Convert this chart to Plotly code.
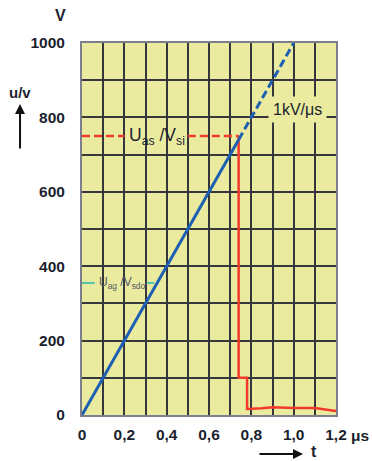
import plotly.graph_objects as go

# ---- data ----
ramp_solid_t = [0.0, 0.74]
ramp_solid_u = [0.0, 740.0]
ramp_dash_t = [0.74, 1.0]
ramp_dash_u = [740.0, 1000.0]

uas_dash_left_t = [0.0, 0.20]
uas_dash_right_t = [0.50, 0.74]
uas_level = [750.0, 750.0]

red_t = [0.74, 0.74, 0.78, 0.78, 0.85, 0.9, 1.0, 1.1, 1.2]
red_u = [750.0, 100.0, 100.0, 16.0, 18.0, 21.0, 19.0, 19.0, 11.0]

uag_left_t = [0.0, 0.06]
uag_right_t = [0.305, 0.34]
uag_level = [355.0, 355.0]

x_tickvals = [0, 0.2, 0.4, 0.6, 0.8, 1.0, 1.2]
x_ticktext = ["0", "0,2", "0,4", "0,6", "0,8", "1,0", "1,2"]
x_unit = "μs"
y_tickvals = [0, 200, 400, 600, 800, 1000]
y_ticktext = ["0", "200", "400", "600", "800", "1000"]

BLUE = "#1d5fb2"
RED = "#f23a2b"
TEAL = "#4fc4a8"
BG = "#eaeb9f"
GRID = "#35373d"
TXT = "#1b1f2e"
FONT = "Liberation Sans, Arial, sans-serif"

fig = go.Figure()
fig.add_trace(go.Scatter(x=uag_left_t, y=uag_level, mode="lines",
                         line=dict(color=TEAL, width=2), hoverinfo="skip"))
fig.add_trace(go.Scatter(x=uag_right_t, y=uag_level, mode="lines",
                         line=dict(color=TEAL, width=2), hoverinfo="skip"))
fig.add_trace(go.Scatter(x=uas_dash_left_t, y=uas_level, mode="lines",
                         line=dict(color=RED, width=2.5, dash="8px,4px")))
fig.add_trace(go.Scatter(x=uas_dash_right_t, y=uas_level, mode="lines",
                         line=dict(color=RED, width=2.5, dash="8px,4px")))
fig.add_trace(go.Scatter(x=red_t, y=red_u, mode="lines",
                         line=dict(color=RED, width=2.5)))
fig.add_trace(go.Scatter(x=ramp_solid_t, y=ramp_solid_u, mode="lines",
                         line=dict(color=BLUE, width=3)))
fig.add_trace(go.Scatter(x=ramp_dash_t, y=ramp_dash_u, mode="lines",
                         line=dict(color=BLUE, width=3, dash="8px,4px")))

fig.update_xaxes(range=[0, 1.2], tickvals=x_tickvals, ticktext=x_ticktext,
                 showgrid=True, gridcolor=GRID, gridwidth=1.5,
                 minor=dict(dtick=0.1, showgrid=True, gridcolor=GRID, gridwidth=1.5),
                 showline=True, mirror=True, linecolor="#7c7f8c", linewidth=2,
                 zeroline=False, ticks="", ticklabelstandoff=4, automargin=False,
                 tickfont=dict(family=FONT, size=15.5, color=TXT, weight="bold"))
fig.update_yaxes(range=[0, 1000], tickvals=y_tickvals, ticktext=y_ticktext,
                 showgrid=True, gridcolor=GRID, gridwidth=1.5,
                 minor=dict(dtick=100, showgrid=True, gridcolor=GRID, gridwidth=1.5),
                 showline=True, mirror=True, linecolor="#7c7f8c", linewidth=2,
                 zeroline=False, ticks="", ticklabelstandoff=12, automargin=False,
                 tickfont=dict(family=FONT, size=15.5, color=TXT, weight="bold"))

ann = []
ann.append(dict(x=0.355, y=750, xref="x", yref="y", showarrow=False,
                text="U<sub>as</sub> /V<sub>si</sub>",
                font=dict(family=FONT, size=17.5, color=TXT)))
ann.append(dict(x=0.19, y=355, xref="x", yref="y", showarrow=False,
                text="U<sub>ag</sub> /V<sub>sdo</sub>",
                font=dict(family=FONT, size=12, color="#555a66")))
ann.append(dict(x=1.02, y=820, xref="x", yref="y", showarrow=False,
                text="1kV/μs", bgcolor=BG, borderpad=4,
                font=dict(family=FONT, size=16, color=TXT)))
ann.append(dict(x=1.094, y=-0.054, xref="paper", yref="paper", showarrow=False,
                xanchor="center", yanchor="middle",
                text="<b>" + x_unit + "</b>", font=dict(family=FONT, size=15.5, color=TXT)))
ann.append(dict(x=-0.083, y=1.074, xref="paper", yref="paper", showarrow=False,
                xanchor="center", yanchor="middle",
                text="<b>V</b>", font=dict(family=FONT, size=16, color=TXT)))
ann.append(dict(x=-0.244, y=0.868, xref="paper", yref="paper", showarrow=False,
                xanchor="center", yanchor="middle",
                text="<b>u/v</b>", font=dict(family=FONT, size=15, color=TXT)))
ann.append(dict(x=-0.244, y=0.836, xref="paper", yref="paper", text="",
                showarrow=True, ax=0, ay=46, arrowhead=2, arrowsize=1,
                arrowwidth=2, arrowcolor="#111"))
ann.append(dict(x=0.87, y=-0.105, xref="paper", yref="paper", text="",
                showarrow=True, ax=-45, ay=0, arrowhead=2, arrowsize=1,
                arrowwidth=2, arrowcolor="#111"))
ann.append(dict(x=0.915, y=-0.098, xref="paper", yref="paper", showarrow=False,
                xanchor="center", yanchor="middle",
                text="<b>t</b>", font=dict(family=FONT, size=16, color=TXT)))

fig.update_layout(width=372, height=461, showlegend=False,
                  margin=dict(l=82, r=36, t=43, b=46),
                  plot_bgcolor=BG, paper_bgcolor="white",
                  annotations=ann)

# remove the page's default body margin so the figure fills the window exactly
fig.write_html("out.html",
               config={"displayModeBar": False},
               post_script="document.body.style.margin='0';"
                           "document.body.style.overflow='hidden';")
